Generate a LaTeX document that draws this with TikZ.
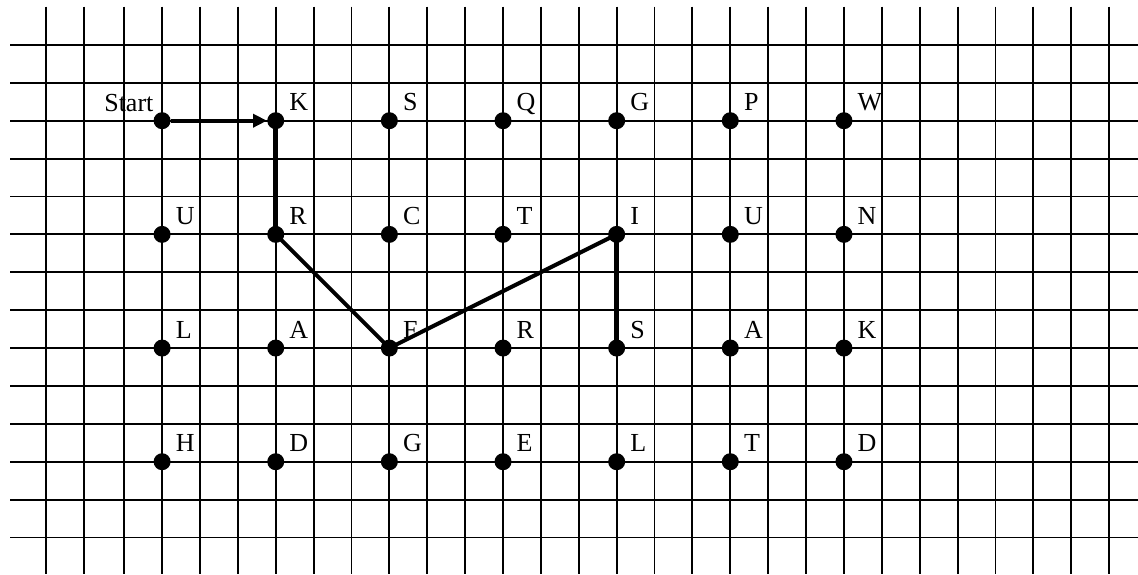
\documentclass[tikz,border=0pt]{standalone}
\usepackage{fontspec}
\setmainfont{Liberation Serif}
\usetikzlibrary{arrows.meta}
\begin{document}
\begin{tikzpicture}[x=1pt,y=-1pt,
  gridline/.style={line width=1.9pt},
  dot/.style={circle,fill=black,inner sep=0pt,minimum size=17pt},
  lab/.style={anchor=base west,inner sep=0pt,font=\fontsize{26}{31}\selectfont},
  route/.style={line width=4pt},
  routev/.style={line width=5pt}]
\useasboundingbox (0,0) rectangle (1138,574);
% grid
\foreach \x in {45.7,83.7} \draw[gridline] (\x,6.5) -- (\x,574);
\foreach \i in {2,...,28} \draw[gridline] ({124.2+37.88*(\i-2)},6.5) -- ({124.2+37.88*(\i-2)},574);
\foreach \j in {0,...,13} \draw[gridline] (10,{44.9+37.89*\j}) -- (1138,{44.9+37.89*\j});
% dots
\foreach \r in {1,...,4}
  \foreach \c in {1,...,7}
    \node[dot] (d\r\c) at ({162.1+113.64*(\c-1)},{120.7+113.67*(\r-1)}) {};
% labels
\node[lab,anchor=base east] (start) at ([xshift=-8.5pt,yshift=9pt]d11.center) {Start};
\foreach \c/\t in {2/K,3/S,4/Q,5/G,6/P,7/W}
  \node[lab] (l1\c) at ([xshift=13.5pt,yshift=10pt]d1\c.center) {\t};
\foreach \c/\t in {1/U,2/R,3/C,4/T,5/I,6/U,7/N}
  \node[lab] (l2\c) at ([xshift=13.5pt,yshift=10pt]d2\c.center) {\t};
\foreach \c/\t in {1/L,2/A,3/F,4/R,5/S,6/A,7/K}
  \node[lab] (l3\c) at ([xshift=13.5pt,yshift=10pt]d3\c.center) {\t};
\foreach \c/\t in {1/H,2/D,3/G,4/E,5/L,6/T,7/D}
  \node[lab] (l4\c) at ([xshift=13.5pt,yshift=10pt]d4\c.center) {\t};
% route
\draw[route,-{Triangle[length=14pt,width=13pt]}] (d11) -- (d12);
\draw[routev] (d12.center) -- (d22.center);
\draw[route,line join=round] (d22.center) -- (d33.center) -- (d25.center);
\draw[routev] (d25.center) -- (d35.center);
\end{tikzpicture}
\end{document}
